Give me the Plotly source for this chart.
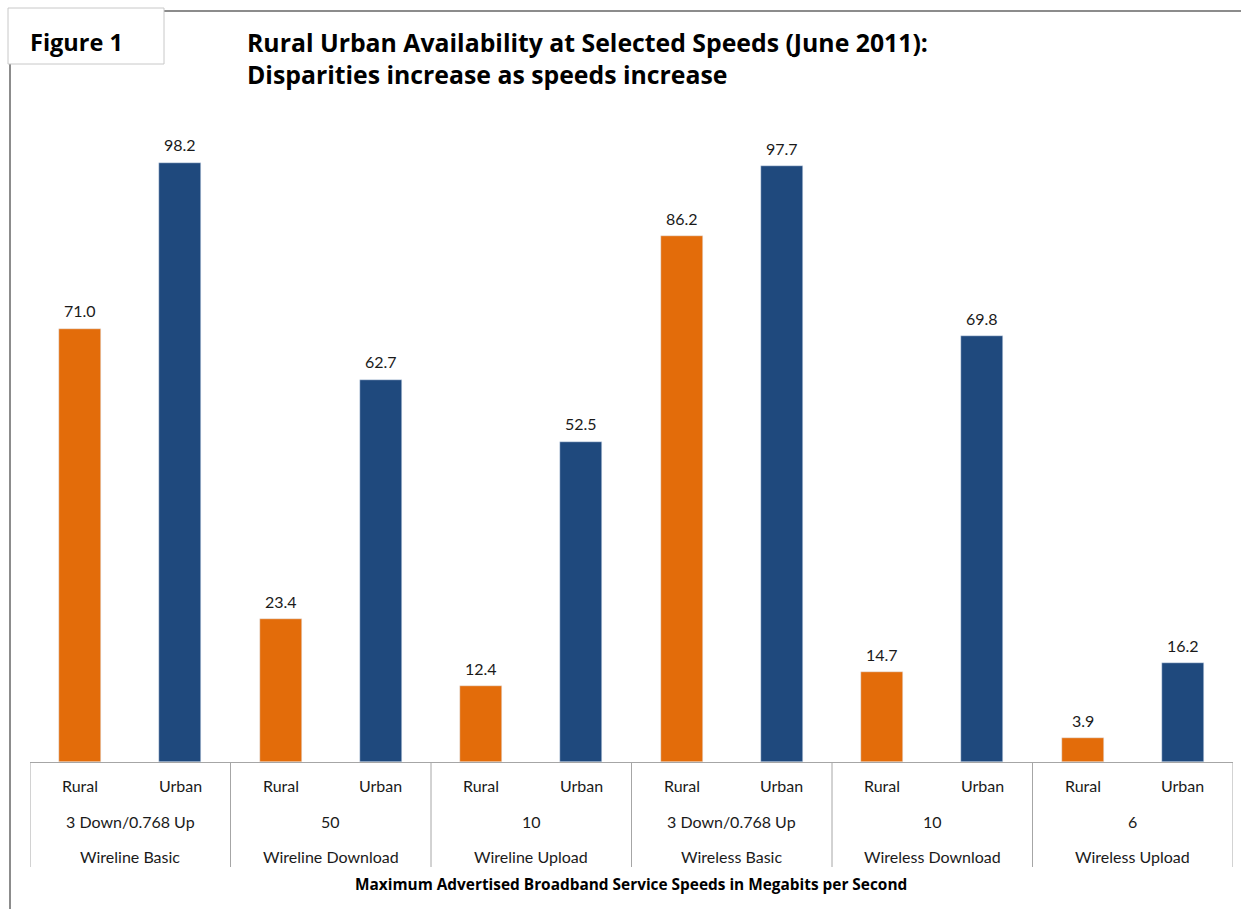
import plotly.graph_objects as go

groups = ["Wireline Basic", "Wireline Download", "Wireline Upload",
          "Wireless Basic", "Wireless Download", "Wireless Upload"]
speeds = ["3 Down/0.768 Up", "50", "10", "3 Down/0.768 Up", "10", "6"]
areas = ["Rural", "Urban"]
rural = [71.0, 23.4, 12.4, 86.2, 14.7, 3.9]
urban = [98.2, 62.7, 52.5, 97.7, 69.8, 16.2]

ORANGE = "#E36C0A"
NAVY = "#1F497D"
GRID = "#A6A6A6"
FONT = "Lato"
BFONT = "Open Sans"

W, H = 1241, 909
L, R, T, B = 30, 8, 152, 147
PH = H - T - B
PW = W - L - R

def py(px):  # pixel offset below axis -> paper coord
    return -px / PH

def pxx(x):
    return (x - L) / PW

def pyt(y):  # absolute pixel y from top -> paper
    return 1 + (T - y) / PH

xr = [2 * i for i in range(len(groups))]
xu = [2 * i + 1 for i in range(len(groups))]

fig = go.Figure()
fig.add_trace(go.Bar(x=xr, y=rural, width=0.42, marker_color=ORANGE, name="Rural"))
fig.add_trace(go.Bar(x=xu, y=urban, width=0.42, marker_color=NAVY, name="Urban"))

shapes = []
ann = []
n = len(groups)
for xs, vs in ((xr, rural), (xu, urban)):
    for x, v in zip(xs, vs):
        ann.append(dict(x=x, y=v, xref="x", yref="y", text=f"{v:.1f}", showarrow=False,
                        yanchor="middle", yshift=18,
                        font=dict(size=16, color="#1a1a1a", family=FONT)))
for k in range(n + 1):
    shapes.append(dict(type="line", xref="x", yref="paper", x0=2 * k - 0.5, x1=2 * k - 0.5,
                       y0=0, y1=py(105), line=dict(color=GRID, width=1)))
for i in range(n):
    for j, a in enumerate(areas):
        ann.append(dict(x=2 * i + j, y=py(23), xref="x", yref="paper", text=a, showarrow=False,
                        font=dict(size=16, color="#1a1a1a", family=FONT), yanchor="middle"))
    ann.append(dict(x=2 * i + 0.5, y=py(59), xref="x", yref="paper", text=speeds[i], showarrow=False,
                    font=dict(size=16, color="#1a1a1a", family=FONT), yanchor="middle"))
    ann.append(dict(x=2 * i + 0.5, y=py(94), xref="x", yref="paper", text=groups[i], showarrow=False,
                    font=dict(size=16, color="#1a1a1a", family=FONT), yanchor="middle"))
ann.append(dict(x=pxx(631), y=py(122), xref="paper", yref="paper",
                text="<b>Maximum Advertised Broadband Service Speeds in Megabits per Second</b>",
                showarrow=False, font=dict(size=15.4, color="#000", family=BFONT), yanchor="middle"))

# frame lines and Figure box
shapes.append(dict(type="line", xref="paper", yref="paper", x0=pxx(164), x1=pxx(W),
                   y0=pyt(11), y1=pyt(11), line=dict(color="#8c8c8c", width=2)))
shapes.append(dict(type="line", xref="paper", yref="paper", x0=pxx(10), x1=pxx(10),
                   y0=pyt(64), y1=pyt(H), line=dict(color="#8c8c8c", width=2)))
shapes.append(dict(type="rect", xref="paper", yref="paper", x0=pxx(8), x1=pxx(164),
                   y0=pyt(64), y1=pyt(8), line=dict(color="#C8C8C8", width=1),
                   fillcolor="white"))
ann.append(dict(x=pxx(28), y=pyt(42), xref="paper", yref="paper",
                text="<b>Figure 1</b>", showarrow=False, xanchor="left", yanchor="middle",
                font=dict(size=23.5, color="#000", family=BFONT)))
ann.append(dict(x=pxx(245), y=pyt(58), xref="paper", yref="paper",
                text="<b>Rural Urban Availability at Selected Speeds (June 2011):<br>Disparities increase as speeds increase</b>",
                showarrow=False, xanchor="left", yanchor="middle", align="left",
                font=dict(size=24.8, color="#000", family=BFONT)))

fig.update_layout(
    width=W, height=H, margin=dict(l=L, r=R, t=T, b=B),
    plot_bgcolor="white", paper_bgcolor="white", showlegend=False,
    bargap=0, shapes=shapes, annotations=ann,
    xaxis=dict(range=[-0.5, 2 * n - 0.5], showticklabels=False, showgrid=False, zeroline=False,
               showline=True, linecolor=GRID, linewidth=1, ticks=""),
    yaxis=dict(range=[0, 100], visible=False, showgrid=False),
)
fig.write_html("out.html", post_script="document.body.style.margin='0';",
               config={"displayModeBar": False})
